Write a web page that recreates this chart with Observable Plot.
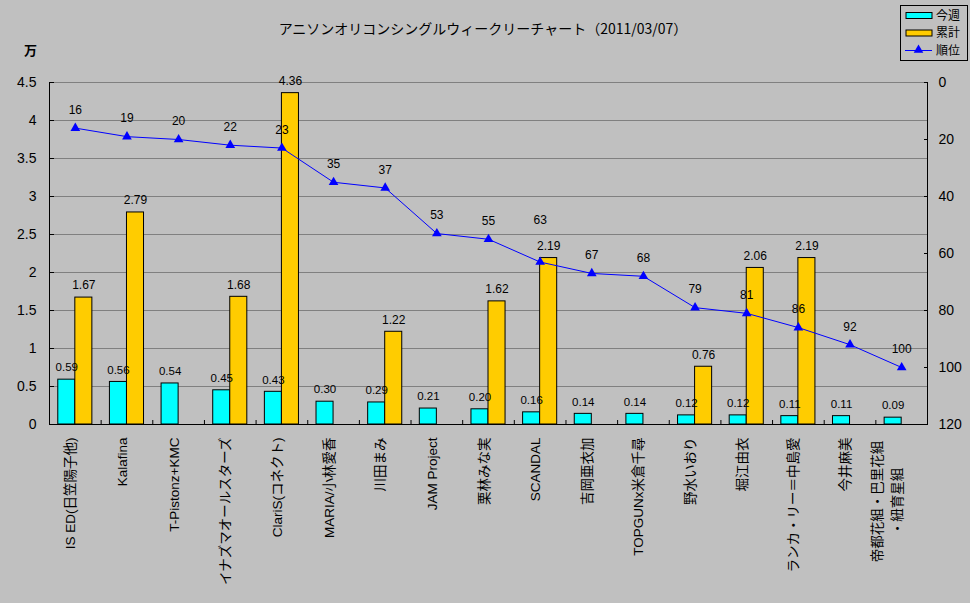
<!DOCTYPE html>
<html>
<head>
<meta charset="utf-8">
<script src="https://cdn.jsdelivr.net/npm/d3@7"></script>
<script src="https://cdn.jsdelivr.net/npm/@observablehq/plot@0.6"></script>
<style>
  html, body { margin: 0; padding: 0; background: #c0c0c0; }
  #wrap { position: relative; width: 970px; height: 603px; background: #c0c0c0; overflow: hidden;
          font-family: "Liberation Sans", "Noto Sans CJK JP", sans-serif; }
  #title { position: absolute; left: 0; width: 966px; top: 18px; text-align: center; font-size: 14px; color: #000;
           font-family: "Noto Sans CJK JP", sans-serif; }
  #unit { position: absolute; left: 24px; top: 40px; font-size: 13px; font-weight: bold; font-family: "Noto Sans CJK JP", sans-serif; }
  #legend { position: absolute; left: 900px; top: 5px; width: 66px; height: 54px; border: 1px solid #000; background: #c0c0c0; }
  #chart { position: absolute; left: 0; top: 0; }
</style>
</head>
<body>
<div id="wrap">
  <div id="chart"></div>
  <div id="title">アニソンオリコンシングルウィークリーチャート（2011/03/07）</div>
  <div id="unit">万</div>
  <div id="legend"></div>
</div>
<script>
// ---- data ----
const categories = [
  "IS ED(日笠陽子他)", "Kalafina", "T-Pistonz+KMC", "イナズマオールスターズ", "ClariS(コネクト)",
  "MARIA/小林愛香", "川田まみ", "JAM Project", "栗林みな実", "SCANDAL", "吉岡亜衣加",
  "TOPGUNx米倉千尋", "野水いおり", "堀江由衣", "ランカ・リー＝中島愛", "今井麻美",
  "帝都花組・巴里花組\n・紐育星組"
];
const thisWeek = [0.59, 0.56, 0.54, 0.45, 0.43, 0.30, 0.29, 0.21, 0.20, 0.16, 0.14, 0.14, 0.12, 0.12, 0.11, 0.11, 0.09];
const cumulative = [1.67, 2.79, null, 1.68, 4.36, null, 1.22, null, 1.62, 2.19, null, null, 0.76, 2.06, 2.19, null, null];
const rank = [16, 19, 20, 22, 23, 35, 37, 53, 55, 63, 67, 68, 79, 81, 86, 92, 100];
const yTicks = [0, 0.5, 1, 1.5, 2, 2.5, 3, 3.5, 4, 4.5];
const rankTicks = [0, 20, 40, 60, 80, 100, 120];
const seriesNames = ["今週", "累計", "順位"];
const raisedRankLabels = [63]; // label moved up in the original to clear the bar label

// ---- derived table ----
const yMax = 4.5, rankMax = 120;
const toY = r => yMax * (1 - r / rankMax);
const data = categories.map((c, i) => ({ i, c, week: thisWeek[i], cum: cumulative[i], rank: rank[i] }));
const cumData = data.filter(d => d.cum != null);
const boundaries = d3.range(-0.5, categories.length, 1);
const half = 0.33;
const font = "'Liberation Sans','Noto Sans CJK JP',sans-serif";
const jfont = "'Noto Sans CJK JP',sans-serif";

const plot = Plot.plot({
  width: 970,
  height: 603,
  marginTop: 82,
  marginBottom: 179,
  marginLeft: 49,
  marginRight: 43,
  style: { background: "transparent", fontFamily: font, color: "#000", overflow: "visible" },
  x: { type: "linear", domain: [-0.5, categories.length - 0.5], axis: null, label: null },
  y: { domain: [0, yMax], axis: null, label: null },
  marks: [
    Plot.ruleY(yTicks.filter(v => v > 0), { stroke: "#808080", strokeWidth: 1 }),
    Plot.rectY(data, { x1: d => d.i - half, x2: d => d.i, y: "week", fill: "#00ffff", stroke: "#000", strokeWidth: 1 }),
    Plot.rectY(cumData, { x1: d => d.i, x2: d => d.i + half, y: "cum", fill: "#ffcc00", stroke: "#000", strokeWidth: 1 }),
    Plot.ruleY([0], { stroke: "#000" }),
    Plot.ruleX([-0.5, categories.length - 0.5], { stroke: "#000" }),
    // left axis
    Plot.axisY(yTicks, { anchor: "left", label: null, tickSize: -5, tickPadding: 18, fontSize: 14, tickFormat: d => String(d), stroke: "#000" }),
    // right axis (rank, reversed)
    Plot.axisY(rankTicks.map(toY), { anchor: "right", label: null, tickSize: -4, tickPadding: 15, fontSize: 14,
      tickFormat: v => String(Math.round((1 - v / yMax) * rankMax)), stroke: "#000" }),
    // x ticks at category boundaries
    Plot.axisX(boundaries, { anchor: "bottom", label: null, tickSize: -4, tickFormat: () => "", stroke: "#000" }),
    // category labels
    Plot.text(data.filter(d => !d.c.includes("\n")), { x: "i", text: "c", frameAnchor: "bottom", dy: 13,
      rotate: -90, textAnchor: "end", fontSize: 13.5, fontFamily: font }),
    Plot.text(data.filter(d => d.c.includes("\n")), { x: "i", text: "c", frameAnchor: "bottom", dy: 77,
      rotate: -90, textAnchor: "middle", fontSize: 13.5, fontFamily: font, lineHeight: 1.45 }),
    // bar value labels
    Plot.text(data, { x: d => d.i - half / 2, y: "week", text: d => d.week.toFixed(2), dy: -12, fontSize: 11.5 }),
    Plot.text(cumData, { x: d => d.i + half / 2, y: "cum", text: d => d.cum.toFixed(2), dy: -12, fontSize: 12 }),
    // rank line
    Plot.line(data, { x: "i", y: d => toY(d.rank), stroke: "#0000ff", strokeWidth: 1 }),
    Plot.dot(data, { x: "i", y: d => toY(d.rank), symbol: "triangle", r: 3.6, fill: "#0000ff", stroke: "none" }),
    Plot.text(data.filter(d => !raisedRankLabels.includes(d.rank)), { x: "i", y: d => toY(d.rank), text: d => String(d.rank), dy: -18, fontSize: 12 }),
    Plot.text(data.filter(d => raisedRankLabels.includes(d.rank)), { x: "i", y: d => toY(d.rank), text: d => String(d.rank), dy: -42, fontSize: 12 })
  ]
});
document.getElementById("chart").appendChild(plot);

// ---- legend ----
const lg = d3.select("#legend").append("svg").attr("width", 66).attr("height", 54)
  .style("display", "block").style("overflow", "visible");
const rowsY = [9.5, 27, 44.5];
seriesNames.forEach((name, k) => {
  const g = lg.append("g").attr("transform", `translate(0,${rowsY[k]})`);
  if (k < 2) {
    g.append("rect").attr("x", 5).attr("y", -3).attr("width", 26).attr("height", 6)
      .attr("fill", k === 0 ? "#00ffff" : "#ffcc00").attr("stroke", "#000");
  } else {
    g.append("line").attr("x1", 4).attr("x2", 31).attr("y1", 0).attr("y2", 0).attr("stroke", "#0000ff");
    g.append("path").attr("d", d3.symbol(d3.symbolTriangle, 40)()).attr("transform", "translate(17.5,-0.5)").attr("fill", "#0000ff");
  }
  g.append("text").attr("x", 35).attr("y", 0).attr("dy", "0.35em").attr("font-size", 12)
    .attr("font-family", jfont).text(name);
});
</script>
</body>
</html>
